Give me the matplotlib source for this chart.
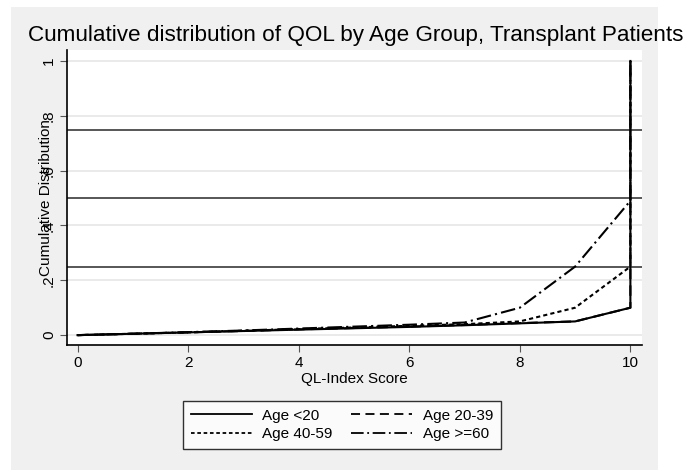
import matplotlib.pyplot as plt
from matplotlib.patches import Rectangle
from matplotlib.lines import Line2D

# QL-Index score points (last point repeats 10 to close the step up to 1)
scores = [0, 1, 2, 3, 4, 5, 6, 7, 8, 9, 10, 10]

cum_lt20 = [0, .005, .01, .015, .02, .025, .03, .036, .043, .05, .1, 1]
cum_20_39 = [0, .005, .01, .015, .021, .026, .031, .037, .044, .05, .1, 1]
cum_40_59 = [0, .005, .01, .016, .022, .028, .034, .04, .05, .1, .25, 1]
cum_ge60 = [0, .005, .011, .017, .024, .031, .038, .046, .1, .25, .49, 1]

ref_lines = [0.25, 0.5, 0.75]
yticks = [0, 0.2, 0.4, 0.6, 0.8, 1]
ytick_labels = ["0", ".2", ".4", ".6", ".8", "1"]
xticks = [0, 2, 4, 6, 8, 10]

labels = ["Age <20", "Age 20-39", "Age 40-59", "Age >=60"]

plt.rcParams['font.family'] = ['Liberation Sans', 'DejaVu Sans']

fig = plt.figure(figsize=(6.9, 4.7), dpi=100)
fig.patch.set_facecolor("white")
# stata-like gray graph region
fig.patches.append(Rectangle((11/690, 0), (658-11)/690, (470-7)/470,
                             transform=fig.transFigure, facecolor="#f0f0f0",
                             edgecolor="none", zorder=-10))

ax = fig.add_axes([67/690, 1 - 345/470, (642-67)/690, (345-50)/470])
ax.set_facecolor("white")

for y in yticks:
    ax.axhline(y, color="#e6e6e6", lw=1.2, zorder=1)
for y in ref_lines:
    ax.axhline(y, color="#3a3a3a", lw=1.2, zorder=2)

styles = ["-", (0, (5, 3)), (0, (2, 1.5)), (0, (7, 2, 1, 2))]
series = [cum_lt20, cum_20_39, cum_40_59, cum_ge60]
zs = [5, 4, 4, 4]
for vals, ls, z in zip(series, styles, zs):
    ax.plot(scores, vals, color="black", lw=1.5, ls=ls, zorder=z)

ax.set_xlim(-0.19, 10.21)
ax.set_ylim(-0.036, 1.04)
ax.set_xticks(xticks)
ax.set_yticks(yticks)
ax.set_yticklabels(ytick_labels, rotation=90, va="center")
ax.tick_params(axis="both", direction="out", length=5, color="#555555",
               labelsize=11, pad=3)
ax.tick_params(axis="y", pad=3)

for side in ["top", "right"]:
    ax.spines[side].set_visible(False)
for side in ["left", "bottom"]:
    ax.spines[side].set_color("black")
    ax.spines[side].set_linewidth(1.2)

ax.set_xlabel("QL-Index Score", fontsize=11, labelpad=1)
ax.set_ylabel("Cumulative Distribution", fontsize=11, labelpad=-8)

fig.text(356/690, 1 - 36/470,
         "Cumulative distribution of QOL by Age Group, Transplant Patients",
         ha="center", va="center", fontsize=16.2)

# legend filled row by row like the reference (matplotlib fills by column)
order = [0, 2, 1, 3]
handles = [Line2D([], [], color="black", lw=1.3, ls=styles[i]) for i in order]
leg = fig.legend(handles, [labels[i] for i in order], ncol=2, loc="center",
                 bbox_to_anchor=(342/690, 1 - 425/470), fontsize=11,
                 frameon=True, fancybox=False, edgecolor="black",
                 handlelength=4.0, columnspacing=1.2, handletextpad=0.7,
                 borderpad=0.5, labelspacing=0.3)
leg.get_frame().set_linewidth(1.0)
leg.get_frame().set_facecolor("white")

fig.savefig("out.png", dpi=100, facecolor=fig.get_facecolor())
